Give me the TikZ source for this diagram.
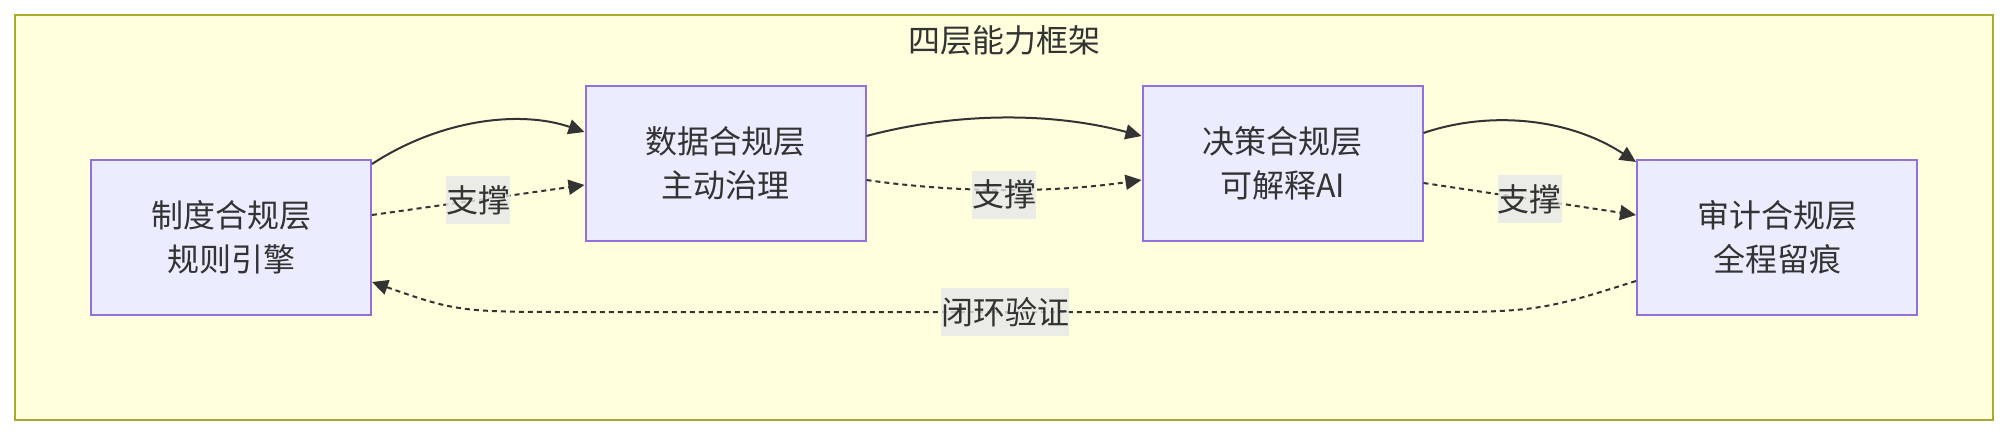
\documentclass[tikz,border=0pt]{standalone}
\usepackage{fontspec}
\setmainfont{Noto Sans CJK SC}
\usetikzlibrary{arrows.meta}
\definecolor{ink}{HTML}{333333}
\definecolor{boxfill}{HTML}{ECECFF}
\definecolor{boxline}{HTML}{9370DB}
\definecolor{groupfill}{HTML}{FFFFDE}
\definecolor{groupline}{HTML}{AAAA33}
\definecolor{lblbg}{HTML}{E8E8E8}
\begin{document}
\begin{tikzpicture}[
  x=1pt,y=-1pt,
  font=\fontsize{32}{44}\selectfont,
  layer/.style={draw=boxline,line width=2pt,fill=boxfill,text=ink,align=center,minimum width=280pt,minimum height=155pt,inner sep=0pt},
  frame/.style={draw=groupline,line width=2pt,fill=groupfill},
  flow/.style={-{Triangle[length=16pt,width=15pt]},line width=2pt,draw=ink},
  support/.style={flow,dash pattern=on 5pt off 4pt},
  lbl/.style={fill=lblbg,fill opacity=.8,text opacity=1,text=ink,inner xsep=0pt,inner ysep=0pt,minimum height=48pt}
]
\path[fill=white,use as bounding box] (0,0) rectangle (2008,436);
\draw[frame] (15,15) rectangle (1993,420);
\node[text=ink] (title) at (1004,40) {四层能力框架};

\node[layer] (law) at (231,237.5) {制度合规层\\规则引擎};
\node[layer] (data) at (725.5,163.5) {数据合规层\\主动治理};
\node[layer] (decision) at (1282.5,163.5) {决策合规层\\可解释AI};
\node[layer] (audit) at (1777,237.5) {审计合规层\\全程留痕};

\coordinate (loopR) at (1450,312);
\coordinate (loopL) at (560,312);

\draw[flow] ([yshift=-5pt]law.north east) .. controls +(69,-45) and +(-64,-22) .. ([yshift=31.5pt]data.west);
\draw[support] ([yshift=22.5pt]law.east) -- ([yshift=-21.5pt]data.west) node[lbl,midway] {支撑};
\draw[flow] ([yshift=27.5pt]data.east) .. controls +(90,-24) and +(-90,-24) .. ([yshift=27.5pt]decision.west);
\draw[support] ([yshift=-16.5pt]data.east) .. controls +(90,13) and +(-90,13) .. ([yshift=-16.5pt]decision.west) node[lbl,midway,yshift=-5pt] {支撑};
\draw[flow] ([yshift=30.5pt]decision.east) .. controls +(64,-22) and +(-69,-45) .. ([yshift=-3pt]audit.north west);
\draw[support] ([yshift=-19.5pt]decision.east) -- ([yshift=22.5pt]audit.west) node[lbl,midway] {支撑};
\draw[support] ([yshift=-43.5pt]audit.west) .. controls +(-80,25) and +(90,0) .. (loopR) -- (loopL) node[lbl,midway] {闭环验证} .. controls +(-100,0) and +(80,28) .. ([yshift=-44.5pt]law.east);
\end{tikzpicture}
\end{document}
